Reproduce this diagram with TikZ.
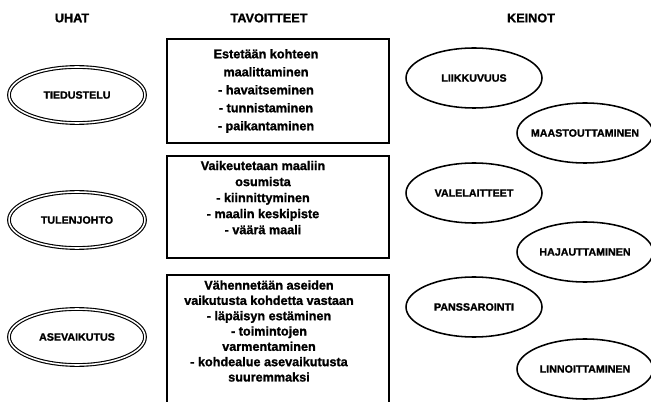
\documentclass[tikz,border=0pt]{standalone}
\usepackage{fontspec}
\setmainfont{Liberation Sans}[BoldFeatures={FakeBold=1.3}]
\usepackage{tikz}
\usetikzlibrary{shapes.geometric}

\begin{document}
\begin{tikzpicture}
	\tikzstyle{head}=[font=\fontsize{9}{10}\selectfont\bfseries]
	\tikzstyle{threat}=[ellipse,draw=black,double,double distance=1.1pt,line width=0.8pt,minimum width=3.4cm,minimum height=1.4cm,inner sep=0pt,font=\fontsize{7.6}{9}\selectfont\bfseries]
	\tikzstyle{goal}=[rectangle,draw=black,line width=1.4pt,minimum width=5.55cm,inner sep=0pt]
	\tikzstyle{aim}=[align=center,inner sep=0pt,font=\fontsize{9}{12.8}\selectfont\bfseries]
	\tikzstyle{means}=[ellipse,draw=black,line width=1.1pt,minimum width=3.4cm,minimum height=1.5cm,inner xsep=-5mm,inner ysep=0pt,font=\fontsize{7.6}{9}\selectfont\bfseries]
	\useasboundingbox (0,0) rectangle (16.275,-10.05);
	\clip (0,0) rectangle (16.275,-10.05);
	\node[head] (h1) at (1.8,-0.45) {UHAT};
	\node[head] (h2) at (6.725,-0.45) {TAVOITTEET};
	\node[head] (h3) at (13.275,-0.45) {KEINOT};
	\node[threat] (u1) at (1.925,-2.375) {TIEDUSTELU};
	\node[threat] (u2) at (1.925,-5.5) {TULENJOHTO};
	\node[threat] (u3) at (1.925,-8.425) {ASEVAIKUTUS};
	\node[goal,minimum height=2.6cm] (t1) at (6.95,-2.275) {};
	\node[goal,minimum height=2.55cm] (t2) at (6.95,-5.175) {};
	\node[goal,minimum height=4cm] (t3) at (6.95,-8.875) {};
	\node[aim] (a1) at (6.65,-2.275) {Estetään kohteen\\ maalittaminen\\ - havaitseminen\\ - tunnistaminen\\ - paikantaminen};
	\node[aim,font=\fontsize{9}{11.4}\selectfont\bfseries] (a2) at (6.575,-4.94) {Vaikeutetaan maaliin\\ osumista\\ - kiinnittyminen\\ - maalin keskipiste\\ - väärä maali};
	\node[aim,font=\fontsize{9}{10.9}\selectfont\bfseries] (a3) at (6.725,-8.275) {Vähennetään aseiden\\ vaikutusta kohdetta vastaan\\ - läpäisyn estäminen\\ - toimintojen\\ varmentaminen\\ - kohdealue asevaikutusta\\ suuremmaksi};
	\node[means] (k1) at (11.85,-1.95) {LIIKKUVUUS};
	\node[means] (k2) at (14.625,-3.325) {MAASTOUTTAMINEN};
	\node[means] (k3) at (11.85,-4.825) {VALELAITTEET};
	\node[means] (k4) at (14.625,-6.3) {HAJAUTTAMINEN};
	\node[means] (k5) at (11.85,-7.675) {PANSSAROINTI};
	\node[means] (k6) at (14.625,-9.225) {LINNOITTAMINEN};
\end{tikzpicture}
\end{document}
